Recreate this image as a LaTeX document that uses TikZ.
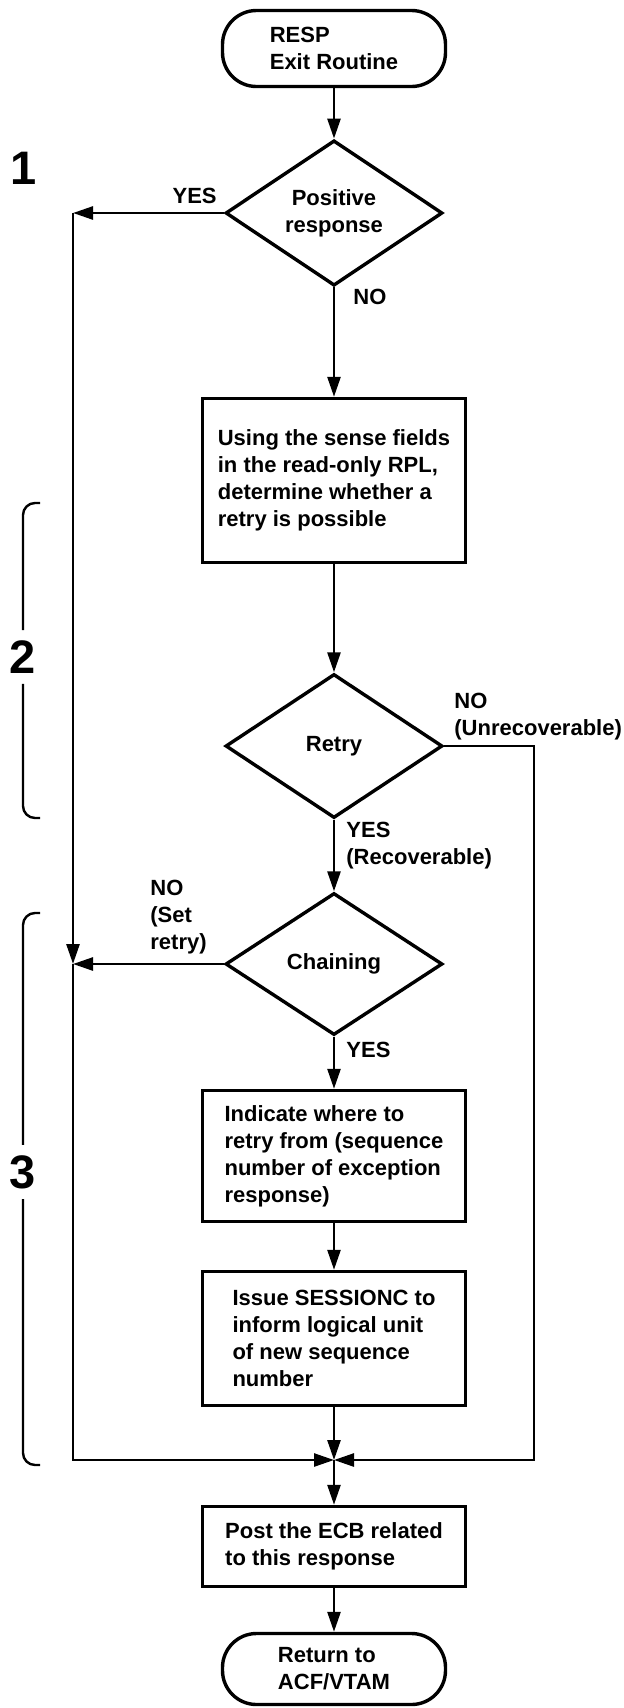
\documentclass[tikz,border=0pt]{standalone}
\usepackage{fontspec}
\setmainfont{Liberation Sans}
\usetikzlibrary{arrows.meta,shapes.geometric}
\newcommand{\flowfont}{\fontsize{11}{13.5}\selectfont\bfseries}
\tikzset{
  flowline/.style={line width=1.3pt},
  arr/.style={flowline,-{Triangle[length=10pt,width=6.5pt]}},
  term/.style={draw,line width=1.7pt,rounded corners=17pt,minimum width=111.5pt,minimum height=38pt,align=left,font=\flowfont},
  decision/.style={draw,diamond,line width=1.7pt,minimum width=108.5pt,minimum height=71pt,inner sep=0pt,align=center,font=\flowfont},
  stepbox/.style={draw,line width=1.7pt,minimum width=131.5pt,align=left,font=\flowfont},
  answer/.style={inner sep=0pt,align=left,font=\flowfont},
  bracket/.style={line width=1.2pt,rounded corners=6pt},
  stage/.style={inner sep=5pt,font=\fontsize{23.5}{28}\selectfont\bfseries},
}

\begin{document}
\begin{tikzpicture}[x=0.5pt,y=-0.5pt]
  \useasboundingbox (0,0) rectangle (624,1708);

  % main column
  \node[term] (start) at (334,48.5) {RESP\\Exit Routine};
  \node[decision] (pos) at (334,213) {Positive\\response};
  \node[stepbox,minimum height=82pt] (sense) at (334,480.5)
    {Using the sense fields\\in the read-only RPL,\\determine whether a\\retry is possible};
  \node[decision,minimum height=72pt] (retry) at (334,746) {Retry};
  \node[decision] (chain) at (334,964) {Chaining};
  \node[stepbox,minimum height=65.5pt] (where) at (334,1156)
    {Indicate where to\\retry from (sequence\\number of exception\\response)};
  \node[stepbox,minimum height=67pt] (issue) at (334,1338.5)
    {Issue SESSIONC to\\inform logical unit\\of new sequence\\number};
  \node[stepbox,minimum height=40pt] (post) at (334,1546.5)
    {Post the ECB related\\to this response};
  \node[term,minimum height=35.5pt] (ret) at (334,1669) {Return to\\ACF/VTAM};

  % bends and the meeting point
  \coordinate (ycorner) at (73,213);
  \coordinate (lmerge) at (73,964);
  \coordinate (rfoot) at (534,1460);
  \coordinate (join) at (334,1460);

  % branch labels
  \node[answer,anchor=east] (posyes) at (217,196) {YES};
  \node[answer,anchor=west] (posno) at (353,297) {NO};
  \node[answer,anchor=north west] (retryno) at (454,693) {NO\\(Unrecoverable)};
  \node[answer,anchor=north west] (retryyes) at (346,822) {YES\\(Recoverable)};
  \node[answer,anchor=north west] (chainno) at (150,880) {NO\\(Set\\retry)};
  \node[answer,anchor=west] (chainyes) at (346,1050) {YES};

  % connectors
  \draw[arr] (start) -- (pos);
  \draw[arr] (pos) -- (sense);
  \draw[arr] (sense) -- (retry);
  \draw[arr] (retry) -- (chain);
  \draw[arr] (chain) -- (where);
  \draw[arr] (where) -- (issue);
  \draw[arr] (issue) -- (join);
  \draw[arr] (join) -- (post);
  \draw[arr] (post) -- (ret);
  \draw[arr] (pos) -- (ycorner);
  \draw[arr] (ycorner) -- (lmerge);
  \draw[arr] (chain) -- (lmerge);
  \draw[arr] (lmerge) |- (join);
  \draw[arr] (retry.east) -| (rfoot) -- (join);

  % stage numbers and brackets
  \node[stage] (one) at (24,168) {1};
  \node[stage] (two) at (23,657) {2};
  \node[stage] (three) at (23,1172) {3};
  \draw[bracket] (two.north) |- (40,503);
  \draw[bracket] (two.south) |- (40,818);
  \draw[bracket] (three.north) |- (40,913);
  \draw[bracket] (three.south) |- (40,1465);
\end{tikzpicture}
\end{document}
